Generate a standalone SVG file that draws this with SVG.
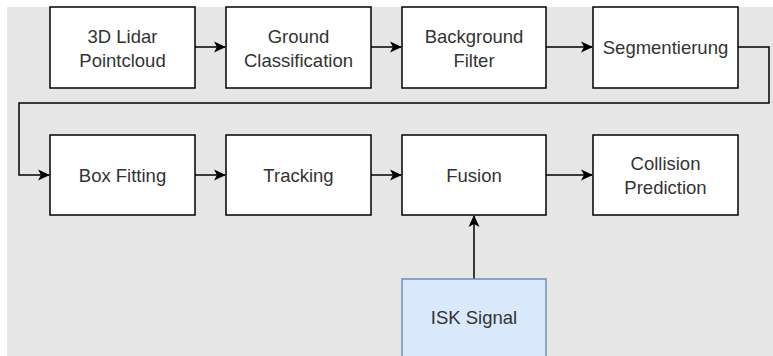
<svg xmlns="http://www.w3.org/2000/svg" width="773" height="356" viewBox="0 0 773 356">
  <defs>
    <marker id="arrow" viewBox="0 0 12 12" refX="11" refY="6" markerWidth="12" markerHeight="12" markerUnits="userSpaceOnUse" orient="auto">
      <path d="M0,0.5 L12,6 L0,11.5 L3,6 Z" fill="#000"/>
    </marker>
  </defs>
  <style>
    .box { fill: #ffffff; stroke: #000000; stroke-width: 1.5; }
    .isk { fill: #dae8fc; stroke: #6c8ebf; stroke-width: 1.5; }
    .label { font-family: "Liberation Sans", Arial, sans-serif; font-size: 18.5px; fill: #333333; text-anchor: middle; }
    .edge { fill: none; stroke: #000000; stroke-width: 1.5; marker-end: url(#arrow); }
  </style>
  <rect x="0" y="0" width="773" height="356" fill="#ffffff"/>
  <rect x="7" y="7" width="766" height="349" fill="#e6e6e6"/>

  <g id="connectors">
    <path class="edge" d="M195,47 L225,47"/>
    <path class="edge" d="M371,47 L401,47"/>
    <path class="edge" d="M546,47 L592,47"/>
    <path class="edge" d="M738,47 L769,47 L769,103 L19,103 L19,175 L49,175"/>
    <path class="edge" d="M195,175 L225,175"/>
    <path class="edge" d="M371,175 L401,175"/>
    <path class="edge" d="M546,175 L592,175"/>
    <path class="edge" d="M474,279 L474,216"/>
  </g>

  <g id="lidar">
    <rect class="box" x="50" y="7" width="145" height="81"/>
    <text class="label" x="122.5" y="43">3D Lidar</text>
    <text class="label" x="122.5" y="67">Pointcloud</text>
  </g>
  <g id="ground">
    <rect class="box" x="226" y="7" width="145" height="81"/>
    <text class="label" x="298.5" y="43">Ground</text>
    <text class="label" x="298.5" y="67">Classification</text>
  </g>
  <g id="background">
    <rect class="box" x="402" y="7" width="144" height="81"/>
    <text class="label" x="474" y="43">Background</text>
    <text class="label" x="474" y="67">Filter</text>
  </g>
  <g id="segmentierung">
    <rect class="box" x="593" y="7" width="145" height="81"/>
    <text class="label" x="665.5" y="54">Segmentierung</text>
  </g>
  <g id="boxfitting">
    <rect class="box" x="50" y="135" width="145" height="80"/>
    <text class="label" x="122.5" y="182">Box Fitting</text>
  </g>
  <g id="tracking">
    <rect class="box" x="226" y="135" width="145" height="80"/>
    <text class="label" x="298.5" y="182">Tracking</text>
  </g>
  <g id="fusion">
    <rect class="box" x="402" y="135" width="144" height="80"/>
    <text class="label" x="474" y="182">Fusion</text>
  </g>
  <g id="collision">
    <rect class="box" x="593" y="135" width="145" height="80"/>
    <text class="label" x="665.5" y="170">Collision</text>
    <text class="label" x="665.5" y="194">Prediction</text>
  </g>
  <g id="isk">
    <rect class="isk" x="402" y="279" width="144" height="90"/>
    <text class="label" x="474" y="324">ISK Signal</text>
  </g>
</svg>
